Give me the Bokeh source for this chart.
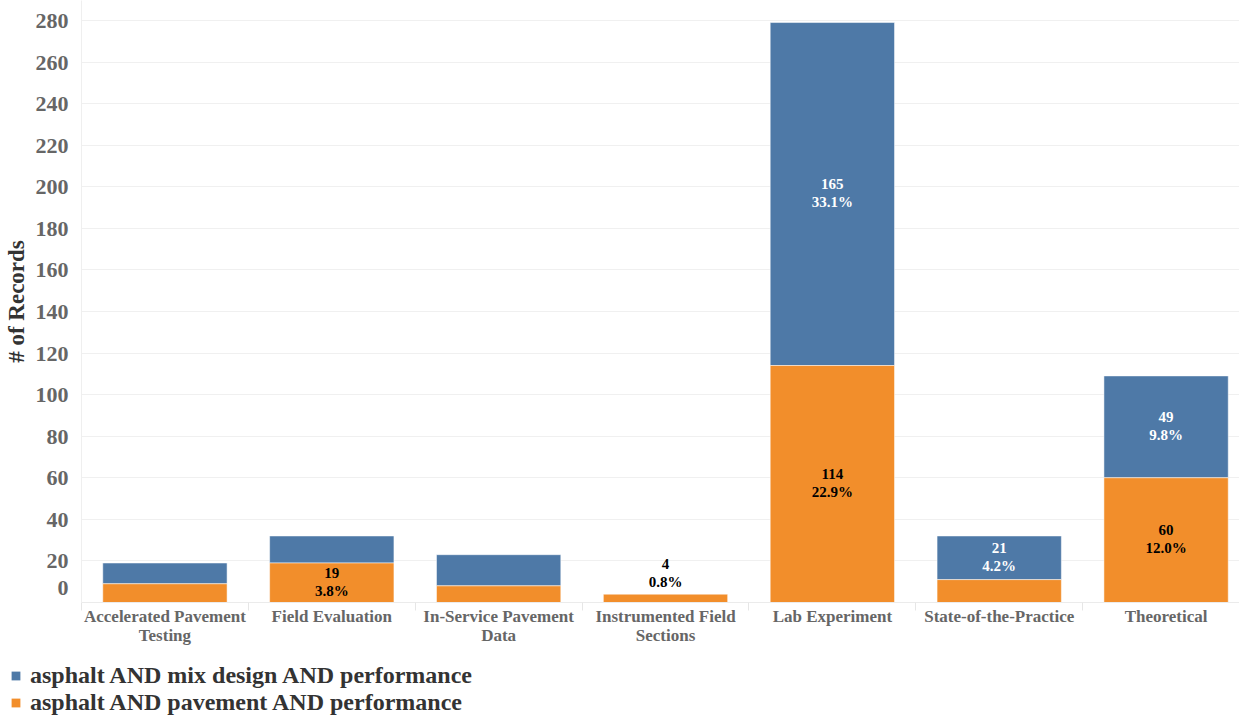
from bokeh.plotting import figure
from bokeh.layouts import column
from bokeh.models import Range1d, FixedTicker, Legend, LegendItem, ColumnDataSource
from bokeh.core.properties import value
from bokeh.embed import file_html
from bokeh.resources import INLINE

# ---- data ----
categories = ["Accelerated Pavement\nTesting", "Field Evaluation", "In-Service Pavement\nData",
              "Instrumented Field\nSections", "Lab Experiment", "State-of-the-Practice", "Theoretical"]
pavement = [9, 19, 8, 4, 114, 11, 60]          # asphalt AND pavement AND performance (orange, bottom)
mix_design = [10, 13, 15, 0, 165, 21, 49]      # asphalt AND mix design AND performance (blue, top)
series_names = ["asphalt AND mix design AND performance", "asphalt AND pavement AND performance"]
y_ticks = [0, 20, 40, 60, 80, 100, 120, 140, 160, 180, 200, 220, 240, 260, 280]
label_pavement = [False, True, False, True, True, False, True]
label_mix = [False, False, False, False, True, True, True]

BLUE = "#4e79a7"
ORANGE = "#f28e2b"
FONT = "Liberation Serif"

n = len(categories)
centers = [i + 0.5 for i in range(n)]
bounds = [i for i in range(n + 1)]
total = sum(pavement) + sum(mix_design)
tops = [a + b for a, b in zip(pavement, mix_design)]

p = figure(width=1239, height=660, output_backend="svg", toolbar_location=None,
           x_range=Range1d(0, 6.94), y_range=Range1d(0, 289.6),
           min_border_left=81, min_border_right=0, min_border_top=0, min_border_bottom=58)
p.outline_line_color = None
p.background_fill_color = "white"

src = ColumnDataSource(dict(x=centers, pav=pavement, top=tops))
r_mix = p.vbar(x="x", bottom="pav", top="top", width=0.745, source=src,
               fill_color=BLUE, line_color="white", line_alpha=0.5, line_width=1)
r_pav = p.vbar(x="x", bottom=0, top="pav", width=0.745, source=src,
               fill_color=ORANGE, line_color="white", line_alpha=0.5, line_width=1)

# value labels
def add_labels(xs, ys, offs, vals, color):
    l1 = [str(v) for v in vals]
    l2 = ["%.1f%%" % (v / total * 100) for v in vals]
    s = ColumnDataSource(dict(x=xs, y=ys, o1=[o - 10 for o in offs], o2=[o + 8 for o in offs], l1=l1, l2=l2))
    for col, oc in (("l1", "o1"), ("l2", "o2")):
        p.text(x="x", y="y", text=col, y_offset=oc, source=s, text_color=color,
               text_font=value(FONT), text_font_style="bold", text_font_size="15px",
               text_align="center", text_baseline="middle")

xs, ys, offs, vals = [], [], [], []
for i in range(n):
    if label_pavement[i]:
        if mix_design[i] == 0 and pavement[i] < 10:
            xs.append(centers[i]); ys.append(pavement[i]); offs.append(-20); vals.append(pavement[i])
        else:
            xs.append(centers[i]); ys.append(pavement[i] / 2); offs.append(0); vals.append(pavement[i])
add_labels(xs, ys, offs, vals, "black")

xs, ys, offs, vals = [], [], [], []
for i in range(n):
    if label_mix[i]:
        xs.append(centers[i]); ys.append(pavement[i] + mix_design[i] / 2); offs.append(0); vals.append(mix_design[i])
add_labels(xs, ys, offs, vals, "white")

# axes
p.xaxis.ticker = FixedTicker(ticks=centers, minor_ticks=bounds)
p.xaxis.major_label_overrides = {c: lab for c, lab in zip(centers, categories)}
p.xaxis.major_tick_line_color = None
p.xaxis.major_tick_out = 0
p.xaxis.minor_tick_line_color = "#e6e6e6"
p.xaxis.minor_tick_in = 0
p.xaxis.minor_tick_out = 8
p.xaxis.axis_line_color = "#ebebeb"
p.xaxis.major_label_text_font = FONT
p.xaxis.major_label_text_font_style = "bold"
p.xaxis.major_label_text_font_size = "17px"
p.xaxis.major_label_text_line_height = 1.0
p.xaxis.major_label_text_color = "#666666"
p.xaxis.major_label_standoff = -4

p.yaxis.ticker = FixedTicker(ticks=y_ticks)
p.yaxis.major_label_overrides = {y_ticks[0]: str(y_ticks[0]) + "\n "}
p.yaxis.major_tick_line_color = None
p.yaxis.minor_tick_line_color = None
p.yaxis.axis_line_color = "#efefef"
p.yaxis.major_label_text_font = FONT
p.yaxis.major_label_text_font_style = "bold"
p.yaxis.major_label_text_font_size = "22px"
p.yaxis.major_label_text_color = "#666666"
p.yaxis.major_label_standoff = 7
p.yaxis.axis_label = "# of Records"
p.yaxis.axis_label_text_font = FONT
p.yaxis.axis_label_text_font_style = "bold"
p.yaxis.axis_label_text_font_size = "23px"
p.yaxis.axis_label_text_color = "#333333"
p.yaxis.axis_label_standoff = 4

p.xgrid.grid_line_color = None
p.ygrid.ticker = FixedTicker(ticks=y_ticks)
p.ygrid.grid_line_color = "#f0f0f0"

# ---- legend in its own strip below the chart ----
lg = figure(width=1239, height=56, output_backend="svg", toolbar_location=None,
            x_axis_location=None, y_axis_location=None,
            x_range=Range1d(-100, -99), y_range=Range1d(-100, -99),
            min_border_left=0, min_border_right=0, min_border_top=0, min_border_bottom=0)
lg.frame_align = False
lg.outline_line_color = None
lg.grid.visible = False
# same data, drawn outside the strip's visible range: only the legend swatches show
e_mix = lg.vbar(x="x", bottom="pav", top="top", width=0.745, source=src, fill_color=BLUE, line_color=None)
e_pav = lg.vbar(x="x", bottom=0, top="pav", width=0.745, source=src, fill_color=ORANGE, line_color=None)
legend = Legend(items=[LegendItem(label=series_names[0], renderers=[e_mix]),
                       LegendItem(label=series_names[1], renderers=[e_pav])],
                location=(10, 0), orientation="vertical",
                label_text_font=FONT, label_text_font_style="bold", label_text_font_size="24px",
                label_text_color="#333333", glyph_width=11, glyph_height=11,
                label_height=24, label_standoff=9, spacing=0, padding=0, margin=0,
                border_line_color=None, background_fill_alpha=0)
lg.add_layout(legend)

layout = column(p, lg, spacing=0)
open("out.html", "w").write(file_html(layout, INLINE))
